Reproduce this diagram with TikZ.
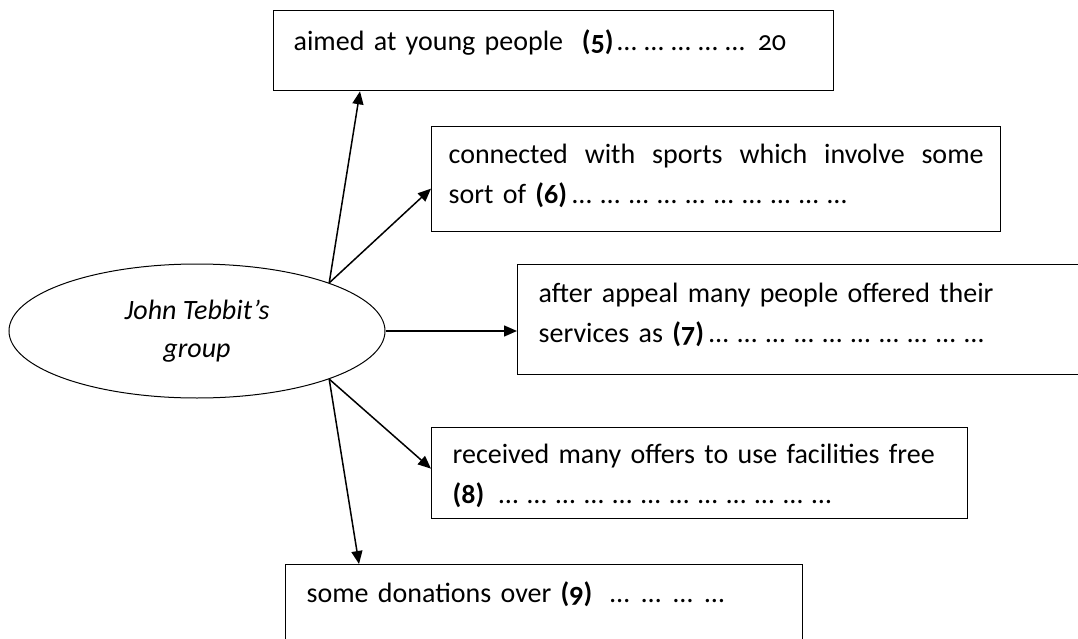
\documentclass[tikz,border=0pt]{standalone}
\usepackage{fontspec}
\setmainfont{Carlito}[Numbers=OldStyle]
\usetikzlibrary{shapes.geometric, arrows.meta, positioning}
\newcommand{\gap}[1]{\hbox to #1{\xleaders\hbox to 27pt{\hss…\hss}\hfill}}

\begin{document}
\begin{tikzpicture}[x=1pt, y=-1pt,
  box/.style={draw, line width=1.3pt, anchor=north west, inner ysep=0pt, inner xsep=21pt, align=left, font={\fontsize{28pt}{40pt}\selectfont}},
  arr/.style={-{Triangle[length=13pt, width=11pt]}, line width=1.5pt}]
\useasboundingbox (0, 0) rectangle (1078, 639);
\clip (0, 0) rectangle (1078, 639);
\node [draw, ellipse, line width=1pt, minimum width=376pt, minimum height=134pt, align=center, font={\fontsize{28pt}{38pt}\selectfont\itshape}] (grp) at (197, 331) {John Tebbit’s\\group};
\node [box, inner xsep=20pt, text width=520pt, text height=40pt, text depth=40pt] (five) at (273, 10) {aimed at young people~ \textbf{(5)}\gap{135pt} 20};
\node [box, inner xsep=17pt, text width=535pt, text height=37pt, text depth=68pt] (six) at (431, 126) {\makebox[\linewidth][s]{\spaceskip=.3333em plus 1em connected with sports which involve some}\\ sort of \textbf{(6)}\gap{285pt}};
\node [box, text width=640pt, text height=38pt, text depth=72pt] (seven) at (517, 264) {after appeal many people offered their\\ services as \textbf{(7)}\gap{285pt}};
\node [box, text width=494pt, text height=36pt, text depth=55pt] (eight) at (431, 427) {received many offers to use facilities free\\ \textbf{(8)} \gap{343pt}};
\node [box, text width=475pt, text height=38pt, text depth=78pt] (nine) at (285, 564) {some donations over \textbf{(9)} \gap{131pt}};
\draw [arr] (grp.20) -- ([xshift=87pt]five.south west);
\draw [arr] (grp.20) -- ([yshift=-9.5pt]six.west);
\draw [arr] (grp.east) -- (grp.east -| seven.west);
\draw [arr] (grp.-20) -- ([yshift=4.5pt]eight.west);
\draw [arr] (grp.-20) -- ([xshift=74pt]nine.north west);
\end{tikzpicture}
\end{document}
